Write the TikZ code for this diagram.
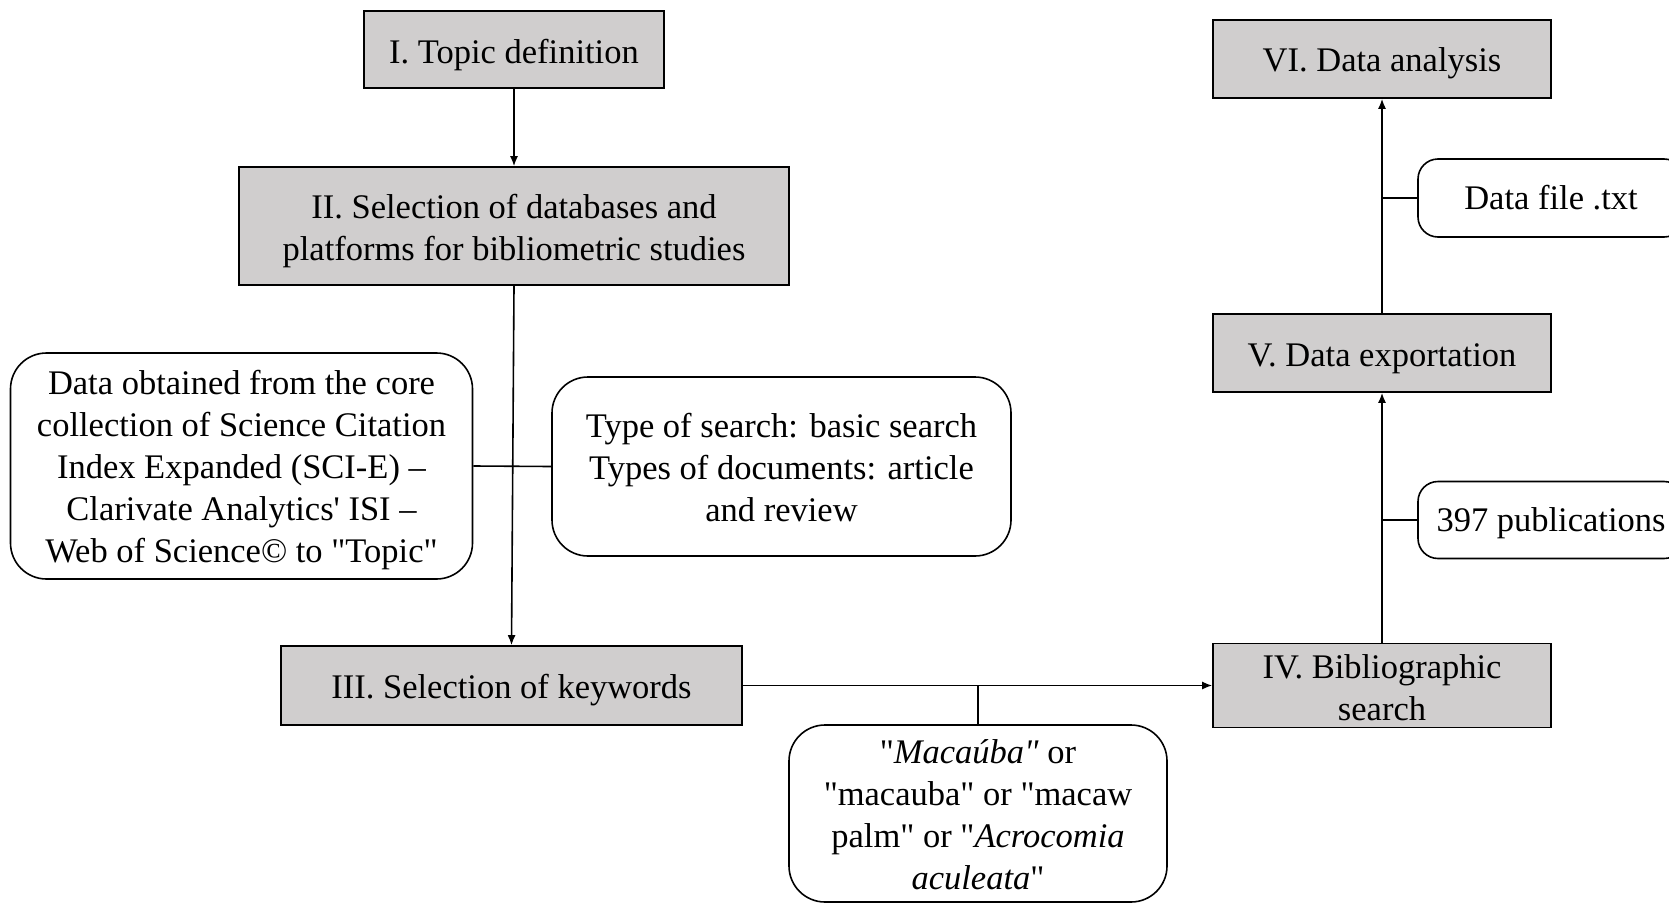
\documentclass[tikz,border=0pt]{standalone}
\usepackage{fontspec}
\setmainfont{Liberation Serif}[Ligatures=TeXOff]
\usetikzlibrary{arrows.meta}
\definecolor{boxgray}{RGB}{208,206,206}
\newcommand{\tb}[2]{\raisebox{-#1}[\height][\depth]{\begin{tabular}{@{}c@{}}#2\end{tabular}}}
\tikzset{
  stepbox/.style={draw=black, fill=boxgray, line width=1.6pt, inner sep=0pt},
  notebox/.style={draw=black, fill=white, line width=1.6pt, inner sep=0pt, rounded corners=36pt},
  smallnote/.style={notebox, rounded corners=20pt},
  conn/.style={line width=1.6pt},
  arr/.style={conn, -{Latex[length=10pt,width=8pt]}}
}
\begin{document}
\begin{tikzpicture}[x=1pt,y=-1pt,font=\fontsize{34.5}{42}\selectfont]
\useasboundingbox (0,0) rectangle (1669,904);
\node[stepbox, minimum width=300pt, minimum height=77pt] (I) at (514,49.5) {\tb{5.3pt}{I. Topic definition}};
\node[stepbox, minimum width=550pt, minimum height=118pt] (II) at (514,226) {\tb{5.3pt}{II. Selection of databases and\\platforms for bibliometric studies}};
\node[notebox, minimum width=462pt, minimum height=226pt] (db) at (241.5,466) {\tb{4.5pt}{Data obtained from the core\\collection of Science Citation\\Index Expanded (SCI-E) –\\Clarivate Analytics' ISI –\\Web of Science© to "Topic"}};
\node[notebox, minimum width=459pt, minimum height=179pt] (type) at (781.5,466.5) {\tb{4.6pt}{Type of search: basic search\\Types of documents: article\\and review}};
\node[stepbox, minimum width=461pt, minimum height=79pt] (III) at (511.5,685.5) {\tb{4.3pt}{III. Selection of keywords}};
\node[stepbox, minimum width=338pt, minimum height=79pt] (IV) at (1382,685.5) {\tb{5.2pt}{IV. Bibliographic\\search}};
\node[notebox, minimum width=378pt, minimum height=177pt] (kw) at (978,813.5) {\tb{4.6pt}{"\textit{Macaúba"} or\\"macauba" or "macaw\\palm" or "\textit{Acrocomia}\\\textit{aculeata}"}};
\node[stepbox, minimum width=338pt, minimum height=78pt] (V) at (1382,353) {\tb{5pt}{V. Data exportation}};
\node[stepbox, minimum width=338pt, minimum height=78pt] (VI) at (1382,59) {\tb{4.3pt}{VI. Data analysis}};
\node[smallnote, minimum width=266pt, minimum height=78pt] (txt) at (1551,198) {\tb{3.3pt}{Data file .txt}};
\node[smallnote, minimum width=266pt, minimum height=77pt] (pub) at (1551,520) {\tb{3pt}{397 publications}};
\draw[arr] (I) -- (II);
\draw[arr] (II.south) -- (III.north);
\draw[conn] (db.east) -- (type.west);
\draw[arr] (III.east) -- (IV.west);
\coordinate (kwj) at (kw.north |- III.east);
\draw[conn] (kwj) -- (kw.north);
\draw[arr] (IV) -- (V);
\draw[arr] (V) -- (VI);
\coordinate (pubj) at (IV.north |- pub.west);
\draw[conn] (pubj) -- (pub.west);
\coordinate (txtj) at (V.north |- txt.west);
\draw[conn] (txtj) -- (txt.west);
\end{tikzpicture}
\end{document}
